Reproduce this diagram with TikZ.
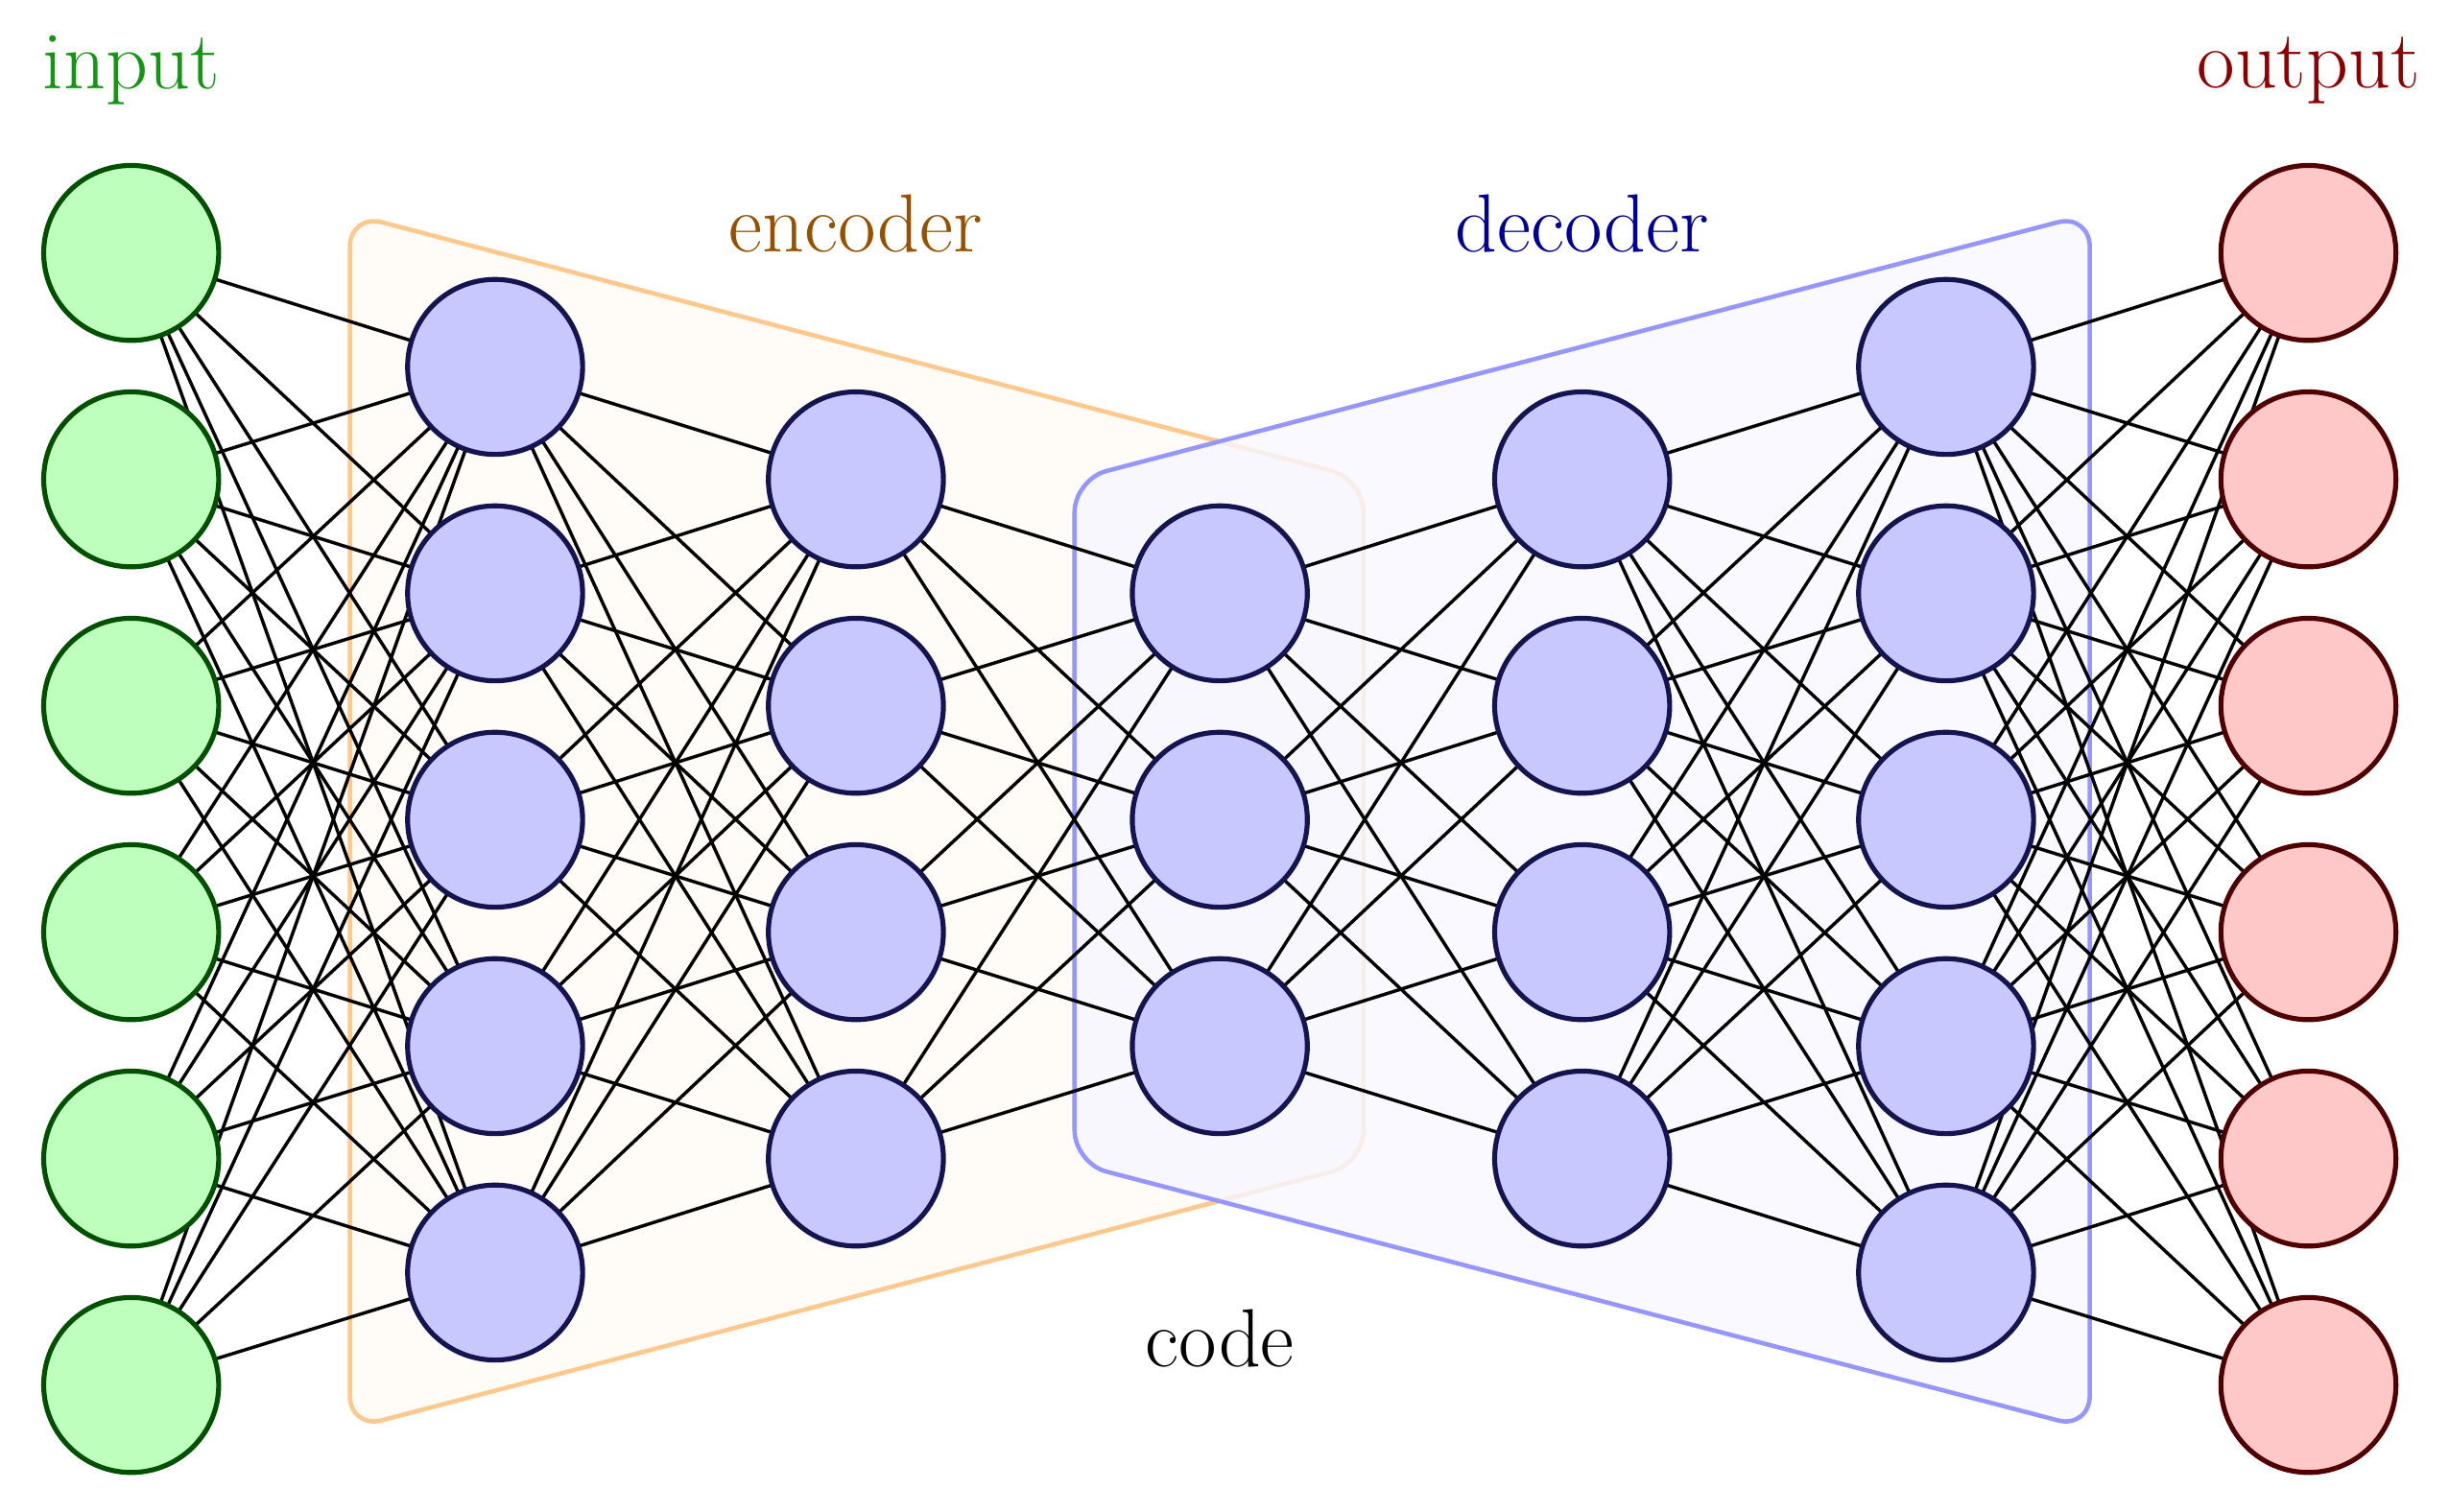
\documentclass[tikz,border=0pt]{standalone}
\begin{document}
\begin{tikzpicture}[x=0.01cm,y=-0.01cm,
  neuron/.style={circle,minimum size=1.12cm,inner sep=0pt,line width=0.9pt},
  inp/.style={neuron,fill=ingreen,draw=indark},
  hid/.style={neuron,fill=hidfill,draw=hiddark},
  outp/.style={neuron,fill=outfill,draw=outdark},
  conn/.style={line width=0.6pt,black},
  lbl/.style={font=\fontsize{15}{18}\selectfont}]
\definecolor{ingreen}{RGB}{190,255,190}
\definecolor{indark}{RGB}{0,80,0}
\definecolor{hidfill}{RGB}{200,200,255}
\definecolor{hiddark}{RGB}{20,20,80}
\definecolor{outfill}{RGB}{255,200,200}
\definecolor{outdark}{RGB}{80,0,0}
\definecolor{encc}{RGB}{255,200,140}
\definecolor{decc}{RGB}{150,150,255}
\useasboundingbox (0,0) rectangle (1568,968);
% boxes
\draw[encc,fill=encc!8,line width=0.8pt,rounded corners=6pt] (224,137) -- (873,307) -- (873,745) -- (224,915) -- cycle;
\draw[decc,fill=decc!8,fill opacity=0.8,line width=0.8pt,rounded corners=6pt] (688,307) -- (1338,137) -- (1338,915) -- (688,745) -- cycle;
% coordinates for layers
\foreach \i in {1,...,6} \coordinate (A\i) at (84,{162+145*(\i-1)});
\foreach \i in {1,...,5} \coordinate (B\i) at (317,{235+145*(\i-1)});
\foreach \i in {1,...,4} \coordinate (C\i) at (548,{307+145*(\i-1)});
\foreach \i in {1,...,3} \coordinate (D\i) at (781,{380+145*(\i-1)});
\foreach \i in {1,...,4} \coordinate (E\i) at (1013,{307+145*(\i-1)});
\foreach \i in {1,...,5} \coordinate (F\i) at (1246,{235+145*(\i-1)});
\foreach \i in {1,...,6} \coordinate (G\i) at (1478,{162+145*(\i-1)});
% connections
\foreach \i in {1,...,6} \foreach \j in {1,...,5} \draw[conn] (A\i) -- (B\j);
\foreach \i in {1,...,5} \foreach \j in {1,...,4} \draw[conn] (B\i) -- (C\j);
\foreach \i in {1,...,4} \foreach \j in {1,...,3} \draw[conn] (C\i) -- (D\j);
\foreach \i in {1,...,3} \foreach \j in {1,...,4} \draw[conn] (D\i) -- (E\j);
\foreach \i in {1,...,4} \foreach \j in {1,...,5} \draw[conn] (E\i) -- (F\j);
\foreach \i in {1,...,5} \foreach \j in {1,...,6} \draw[conn] (F\i) -- (G\j);
% nodes
\foreach \i in {1,...,6} \node[inp] (a\i) at (A\i) {};
\foreach \i in {1,...,5} \node[hid] (b\i) at (B\i) {};
\foreach \i in {1,...,4} \node[hid] (c\i) at (C\i) {};
\foreach \i in {1,...,3} \node[hid] (d\i) at (D\i) {};
\foreach \i in {1,...,4} \node[hid] (e\i) at (E\i) {};
\foreach \i in {1,...,5} \node[hid] (f\i) at (F\i) {};
\foreach \i in {1,...,6} \node[outp] (g\i) at (G\i) {};
% labels
\node[lbl,text={rgb,255:red,20;green,150;blue,20}] (tin) at (84,45) {input};
\node[lbl,text={rgb,255:red,140;green,0;blue,0}] (tout) at (1478,45) {output};
\node[lbl,text={rgb,255:red,150;green,80;blue,0}] (tenc) at (548,143) {encoder};
\node[lbl,text={rgb,255:red,0;green,0;blue,150}] (tdec) at (1013,143) {decoder};
\node[lbl] (tcode) at (781,857) {code};
\end{tikzpicture}
\end{document}
